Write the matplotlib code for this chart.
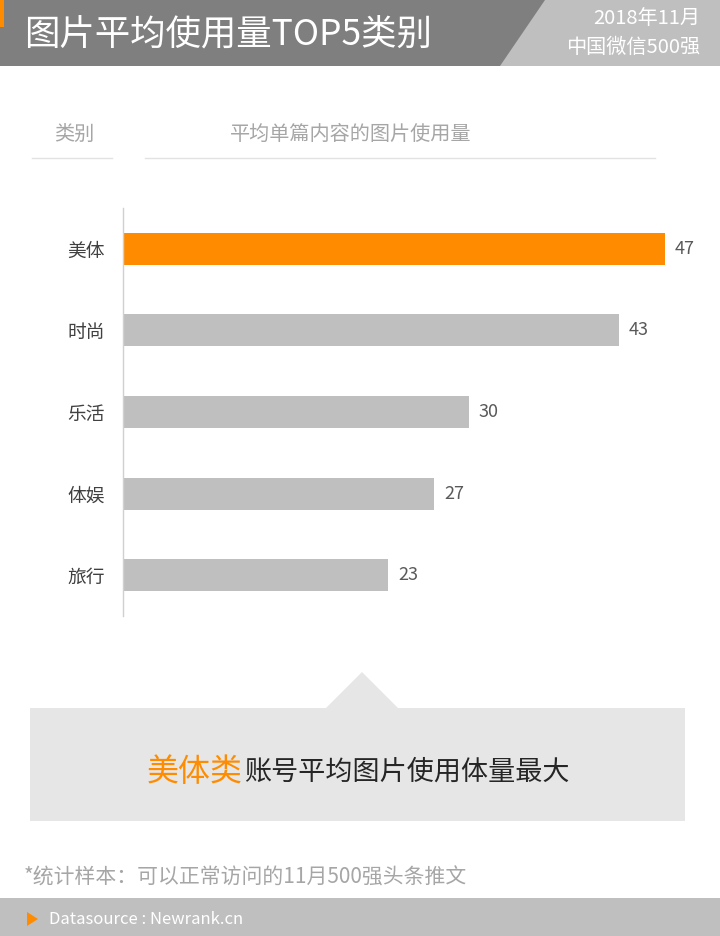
import matplotlib
matplotlib.use('Agg')
import matplotlib.pyplot as plt
import matplotlib.patches as mpatches

plt.rcParams['font.family'] = ['Noto Sans CJK SC', 'DejaVu Sans']

ORANGE = '#ff8c00'
BAR_GRAY = '#bfbfbf'
DARK = '#7f7f7f'
LIGHT = '#bfbfbf'
TXT_GRAY = '#a6a6a6'

categories = ['美体', '时尚', '乐活', '体娱', '旅行']
values = [47, 43, 30, 27, 23]
highlight = '美体'

W, H = 720, 936
fig = plt.figure(figsize=(W / 100, H / 100), dpi=100)
fig.patch.set_facecolor('white')

# overlay in pixel coords for the decorations
bg = fig.add_axes([0, 0, 1, 1])
bg.set_xlim(0, W)
bg.set_ylim(H, 0)
bg.axis('off')

# header band
bg.add_patch(mpatches.Rectangle((0, 0), W, 66, color=DARK, lw=0))
bg.add_patch(mpatches.Polygon([(545, 0), (W, 0), (W, 66), (500, 66)], closed=True, color=LIGHT, lw=0))
bg.add_patch(mpatches.Rectangle((0, 0), 4, 27, color=ORANGE, lw=0))
bg.text(24, 35, '图片平均使用量TOP5类别', color='white', fontsize=25.5, va='center', ha='left')
bg.text(700, 18, '2018年11月', color='white', fontsize=14.5, va='center', ha='right')
bg.text(700, 47, '中国微信500强', color='white', fontsize=14.5, va='center', ha='right')

# column headers
bg.text(74, 134, '类别', color=TXT_GRAY, fontsize=14.5, va='center', ha='center')
bg.text(351, 134, '平均单篇内容的图片使用量', color=TXT_GRAY, fontsize=14.5, va='center', ha='center')
bg.plot([32, 112], [158, 158], color='#e2e2e2', lw=1)
bg.plot([145, 655], [158, 158], color='#e2e2e2', lw=1)

# bottom call-out box
bg.add_patch(mpatches.Rectangle((30, 708), 655, 113, color='#e6e6e6', lw=0))
bg.add_patch(mpatches.Polygon([(325, 709), (362, 672), (399, 709)], closed=True, color='#e6e6e6', lw=0))
bg.text(243, 772, '美体类', color=ORANGE, fontsize=23, va='center', ha='right')
bg.text(244, 772, '账号平均图片使用体量最大', color='#262626', fontsize=19.5, va='center', ha='left')

# footnote
bg.text(24, 878, '*统计样本：可以正常访问的11月500强头条推文', color=TXT_GRAY, fontsize=15,
        va='center', ha='left')

# footer
bg.add_patch(mpatches.Rectangle((0, 898), W, 38, color=LIGHT, lw=0))
bg.add_patch(mpatches.Polygon([(27, 912), (38, 919), (27, 926)], closed=True, color=ORANGE, lw=0))
bg.text(49, 919, 'Datasource : Newrank.cn', color='white', fontsize=12, va='center', ha='left')

# bar chart
left, right, top, bottom = 123, 665, 208, 616
ax = fig.add_axes([left / W, 1 - bottom / H, (right - left) / W, (bottom - top) / H])
ax.patch.set_alpha(0)
y = list(range(len(categories)))
colors = [ORANGE if c == highlight else BAR_GRAY for c in categories]
ax.barh(y, values, height=0.39, color=colors, edgecolor='none')
ax.set_xlim(0, max(values))
ax.set_ylim(len(categories) - 0.5, -0.5)
for s in ['top', 'right', 'bottom']:
    ax.spines[s].set_visible(False)
ax.spines['left'].set_color('#d0d0d0')
ax.spines['left'].set_linewidth(1)
ax.set_xticks([])
ax.set_yticks(y)
ax.set_yticklabels(categories, fontsize=13.5, color='#404040')
ax.tick_params(axis='y', length=0, pad=13)
for yi, v in zip(y, values):
    ax.annotate(str(v), (v, yi), xytext=(7, 0), textcoords='offset points',
                va='center', ha='left', fontsize=13, color='#595959', annotation_clip=False)

fig.savefig('out.png', dpi=100)
